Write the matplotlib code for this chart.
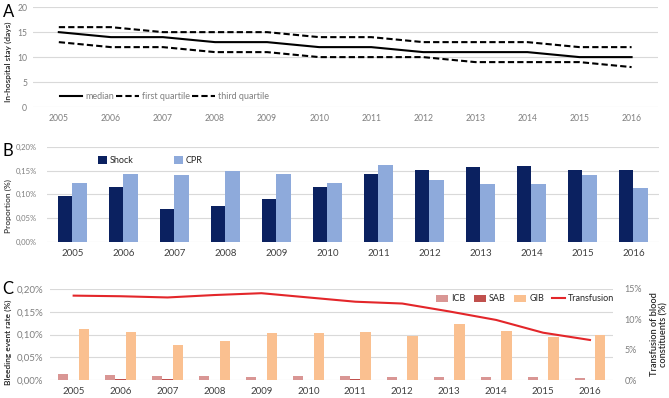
import matplotlib
matplotlib.use("Agg")
import matplotlib.pyplot as plt
import numpy as np

plt.rcParams['font.family'] = ['Lato', 'DejaVu Sans']

years = ['2005', '2006', '2007', '2008', '2009', '2010',
         '2011', '2012', '2013', '2014', '2015', '2016']

# A: length of in-hospital stay (days)
median = [15, 14, 14, 13, 13, 12, 12, 11, 11, 11, 10, 10]
first_quartile = [13, 12, 12, 11, 11, 10, 10, 10, 9, 9, 9, 8]
third_quartile = [16, 16, 15, 15, 15, 14, 14, 13, 13, 13, 12, 12]

# B: proportion (%)
shock = [0.097, 0.115, 0.070, 0.076, 0.091, 0.115, 0.143, 0.152, 0.158, 0.160, 0.151, 0.152]
cpr = [0.123, 0.142, 0.140, 0.150, 0.143, 0.124, 0.162, 0.130, 0.122, 0.122, 0.141, 0.114]

# C: bleeding event rate (%) and transfusion (%)
icb = [0.013, 0.012, 0.009, 0.0095, 0.0066, 0.009, 0.0095, 0.007, 0.007, 0.007, 0.007, 0.004]
sab = [0.0005, 0.0015, 0.0015, 0.0005, 0.0003, 0.0003, 0.0015, 0.0003, 0.0003, 0.0003, 0.0003, 0.0002]
gib = [0.112, 0.105, 0.078, 0.086, 0.104, 0.103, 0.105, 0.097, 0.123, 0.108, 0.094, 0.100]
transfusion = [13.9, 13.8, 13.6, 14.0, 14.3, 13.6, 12.9, 12.6, 11.3, 9.9, 7.8, 6.6]

grid_col = '#d9d9d9'
tick_col = '#7f7f7f'
dark_tick = '#404040'
lab_col = '#262626'
x = np.arange(len(years))


def pct(v, pos=None):
    return f"{v:.2f}%".replace('.', ',')


def style(ax, size, col):
    for s in ax.spines.values():
        s.set_visible(False)
    ax.grid(axis='y', color=grid_col, linewidth=0.8)
    ax.set_axisbelow(True)
    ax.tick_params(length=0, labelsize=size, colors=col, pad=5)
    ax.set_xticks(x)
    ax.set_xticklabels(years)
    ax.set_xlim(-0.5, len(years) - 0.5)


fig = plt.figure(figsize=(6.69, 3.98), dpi=100)

# ---- A ----
axA = fig.add_axes([0.049, 0.731, 0.934, 0.251])
style(axA, 6.2, tick_col)
axA.plot(x, median, color='black', lw=1.5, label='median')
axA.plot(x, first_quartile, color='black', lw=1.5, ls=(0, (3, 1.5)), label='first quartile')
axA.plot(x, third_quartile, color='black', lw=1.5, ls=(0, (3, 1.5)), label='third quartile')
axA.set_ylim(0, 20)
axA.set_yticks([0, 5, 10, 15, 20])
axA.tick_params(axis='y', pad=4)
axA.legend(loc='lower left', bbox_to_anchor=(0.03, -0.02), ncol=3, frameon=False,
           fontsize=6.5, handlelength=2.5, columnspacing=0.3, handletextpad=0.3,
           labelcolor=tick_col)
fig.text(0.012, 0.845, 'In-hospital stay (days)', fontsize=6, color=lab_col,
         rotation=90, ha='center', va='center', fontweight='semibold')
fig.text(0.004, 0.97, 'A', fontsize=12, va='center')

# ---- B ----
axB = fig.add_axes([0.070, 0.392, 0.915, 0.239])
style(axB, 7, dark_tick)
w = 0.29
axB.bar(x - w / 2, shock, w, color='#0b2160', label='Shock')
axB.bar(x + w / 2, cpr, w, color='#8eaadb', label='CPR')
axB.set_ylim(0, 0.20)
axB.set_yticks([0, 0.05, 0.10, 0.15, 0.20])
axB.yaxis.set_major_formatter(plt.FuncFormatter(pct))
axB.tick_params(axis='y', labelsize=5.5, pad=7, colors=tick_col)
axB.legend(loc='upper left', bbox_to_anchor=(0.07, 0.99), ncol=2, frameon=False,
           fontsize=6.5, handlelength=1.0, handleheight=0.9, columnspacing=4.5,
           handletextpad=0.3, labelcolor=lab_col)
fig.text(0.012, 0.482, 'Proportion (%)', fontsize=6, color='#404040',
         rotation=90, ha='center', va='center', fontweight='semibold')
fig.text(0.004, 0.62, 'B', fontsize=12, va='center')

# ---- C ----
axC = fig.add_axes([0.075, 0.045, 0.842, 0.229])
style(axC, 7, dark_tick)
bw = 0.22
axC.bar(x - bw, icb, bw, color='#d99694', label='ICB')
axC.bar(x, sab, bw, color='#c0504d', label='SAB')
axC.bar(x + bw, gib, bw, color='#fac090', label='GIB')
axC.set_ylim(0, 0.20)
axC.set_yticks([0, 0.05, 0.10, 0.15, 0.20])
axC.yaxis.set_major_formatter(plt.FuncFormatter(pct))
axC.tick_params(axis='y', pad=5, colors=tick_col)
fig.text(0.012, 0.14, 'Bleeding event rate (%)', fontsize=6, color=lab_col,
         rotation=90, ha='center', va='center', fontweight='semibold')
fig.text(0.004, 0.275, 'C', fontsize=12, va='center')

axC2 = axC.twinx()
for s in axC2.spines.values():
    s.set_visible(False)
axC2.plot(x, transfusion, color='#e3262a', lw=1.5, label='Transfusion')
axC2.set_ylim(0, 15)
axC2.set_yticks([0, 5, 10, 15])
axC2.yaxis.set_major_formatter(plt.FuncFormatter(lambda v, p: f"{v:.0f}%"))
axC2.tick_params(length=0, labelsize=6.5, colors=tick_col, pad=8)
fig.text(0.985, 0.16, 'Transfusion of blood\nconstituents (%)', fontsize=6.6,
         color=lab_col, rotation=90, ha='center', va='center', linespacing=1.05,
         multialignment='center', fontweight='semibold')

h1, l1 = axC.get_legend_handles_labels()
h2, l2 = axC2.get_legend_handles_labels()
axC2.legend(h1 + h2, l1 + l2, loc='upper right', bbox_to_anchor=(1.015, 1.03), ncol=4,
            frameon=False, fontsize=6.5, handlelength=1.4, handleheight=0.8,
            columnspacing=0.9, handletextpad=0.3, labelcolor=lab_col)

fig.savefig('out.png', dpi=100)
